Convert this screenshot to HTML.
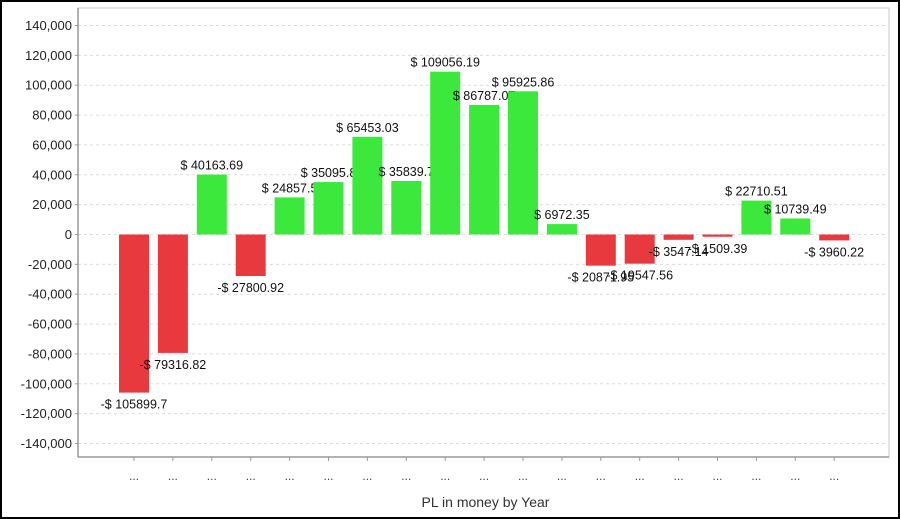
<!DOCTYPE html>
<html><head><meta charset="utf-8"><style>
html,body{margin:0;padding:0;background:#fff}
#wrap{width:900px;height:519px;position:relative;box-sizing:border-box;border:2px solid #000;overflow:hidden}
svg text{font-family:"Liberation Sans",sans-serif}
</style></head><body>
<div id="wrap">
<svg id="chart" width="896" height="515"></svg>
</div>
<script>
const categories=["...","...","...","...","...","...","...","...","...","...","...","...","...","...","...","...","...","...","..."];
const values=[-105899.7,-79316.82,40163.69,-27800.92,24857.5,35095.8,65453.03,35839.7,109056.19,86787.07,95925.86,6972.35,-20871.95,-19547.56,-3547.14,-1509.39,22710.51,10739.49,-3960.22];
const labels=["-$ 105899.7","-$ 79316.82","$ 40163.69","-$ 27800.92","$ 24857.5","$ 35095.8","$ 65453.03","$ 35839.7","$ 109056.19","$ 86787.07","$ 95925.86","$ 6972.35","-$ 20871.95","-$ 19547.56","-$ 3547.14","-$ 1509.39","$ 22710.51","$ 10739.49","-$ 3960.22"];
const yTicks=[140000,120000,100000,80000,60000,40000,20000,0,-20000,-40000,-60000,-80000,-100000,-120000,-140000];
const NS="http://www.w3.org/2000/svg";
const svg=document.getElementById('chart');
const ox=-2,oy=-2;
const L=78+ox,R=889+ox,T=8+oy,B=457+oy;
const y=v=>(234.5+oy)-v*418/280000;
const x0=134+ox,step=38.9;
const x=i=>x0+i*step;
function el(t,a){const e=document.createElementNS(NS,t);for(const k in a)e.setAttribute(k,a[k]);svg.appendChild(e);return e;}
const bg=el('rect',{x:L,y:T,width:R-L,height:B-T,fill:'#fff',stroke:'#c8c8c8'});


yTicks.forEach(t=>{
  const g=el('line',{x1:L,x2:R,y1:y(t),y2:y(t),stroke:'#dcdcdc','stroke-dasharray':'3,3'});
  
  
  el('line',{x1:L-3,x2:L,y1:y(t),y2:y(t),stroke:'#999'});
  const tx=el('text',{x:L-6,y:y(t)+4.5,'text-anchor':'end','font-size':'13',fill:'#222'});
  tx.textContent=t.toLocaleString('en-US');
  
  
});
el('line',{x1:L,x2:L,y1:T,y2:B,stroke:'#999','stroke-width':1.5});
el('line',{x1:L,x2:R,y1:B,y2:B,stroke:'#999','stroke-width':1.5});
const bw=30;
values.forEach((v,i)=>{
  const cx=x(i);
  const top=Math.min(y(v),y(0)),h=Math.abs(y(v)-y(0));
  const r=el('rect',{x:cx-bw/2,y:top,width:bw,height:h,fill:v>=0?'#3ce83c':'#e8393f'});
  
  
  const lt=el('text',{x:cx,y:v>=0?y(v)-5:y(v)+16,'text-anchor':'middle','font-size':'12.5',fill:'#111'});
  lt.textContent=labels[i];
  
  
  el('line',{x1:cx,x2:cx,y1:B,y2:B+4,stroke:'#999'});
  const ct=el('text',{x:cx,y:B+23,'text-anchor':'middle','font-size':'12',fill:'#444'});
  ct.textContent=categories[i];
  
  
});
const xt=el('text',{x:(L+R)/2+2,y:507+oy,'text-anchor':'middle','font-size':'14',fill:'#333'});
xt.textContent='PL in money by Year';


</script>
</body></html>
